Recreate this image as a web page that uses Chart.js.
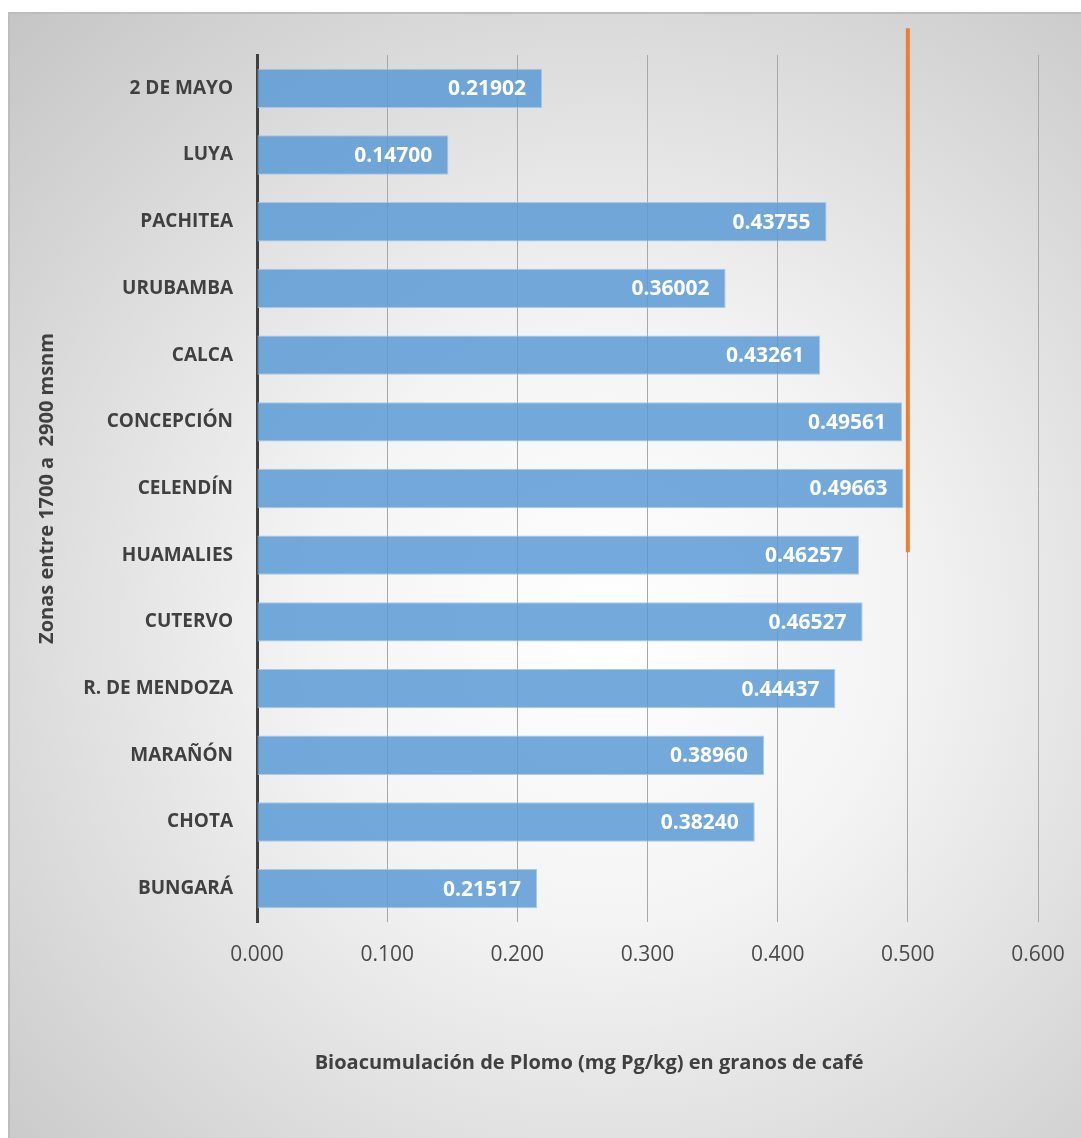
<!DOCTYPE html>
<html>
<head>
<meta charset="utf-8">
<script src="https://cdn.jsdelivr.net/npm/chart.js@4"></script>
<style>
  html, body { margin: 0; padding: 0; background: #ffffff; }
  #wrap { position: relative; width: 1081px; height: 1138px; }
</style>
</head>
<body>
<div id="wrap"><canvas id="leadChart" width="1081" height="1138"></canvas></div>
<script>
// datos del gráfico
const zonas = ['2 DE MAYO', 'LUYA', 'PACHITEA', 'URUBAMBA', 'CALCA', 'CONCEPCIÓN', 'CELENDÍN',
    'HUAMALIES', 'CUTERVO', 'R. DE MENDOZA', 'MARAÑÓN', 'CHOTA', 'BUNGARÁ'];
const plomo = [0.21902, 0.14700, 0.43755, 0.36002, 0.43261, 0.49561, 0.49663,
    0.46257, 0.46527, 0.44437, 0.38960, 0.38240, 0.21517];
const xTicks = [0, 0.1, 0.2, 0.3, 0.4, 0.5, 0.6];
const limite = 0.5;              // línea naranja (límite máximo)
const limiteHasta = 'HUAMALIES'; // la línea baja hasta esta zona
const tituloX = 'Bioacumulación de Plomo (mg Pg/kg) en granos de café';
const tituloY = 'Zonas entre 1700 a  2900 msnm';

const fontFam = "'Open Sans', 'Liberation Sans', sans-serif";

// fondo con degradado radial y marco
const fondoPlugin = {
    id: 'fondo',
    beforeDraw(chart) {
        const ctx = chart.ctx;
        const w = chart.width, h = chart.height;
        ctx.save();
        ctx.fillStyle = '#ffffff';
        ctx.fillRect(0, 0, w, h);
        const g = ctx.createRadialGradient(w * 0.56, h * 0.55, 0, w * 0.56, h * 0.55, w * 0.78);
        g.addColorStop(0, '#ffffff');
        g.addColorStop(0.35, '#f4f4f4');
        g.addColorStop(1, '#c6c6c6');
        ctx.fillStyle = g;
        ctx.fillRect(8, 12, w - 8, h - 12);
        ctx.strokeStyle = '#bdbdbd';
        ctx.lineWidth = 2;
        ctx.strokeRect(9, 13, w, h);
        ctx.restore();
    }
};

// etiquetas de valores, línea límite y títulos de ejes
const extrasPlugin = {
    id: 'extras',
    afterDatasetsDraw(chart) {
        const ctx = chart.ctx;
        const meta = chart.getDatasetMeta(0);
        ctx.save();
        ctx.font = "bold 21px " + fontFam;
        ctx.fillStyle = '#ffffff';
        ctx.textAlign = 'right';
        ctx.textBaseline = 'middle';
        meta.data.forEach((bar, i) => {
            ctx.fillText(plomo[i].toFixed(5), bar.x - 16, bar.y + 1);
        });

        // línea límite
        const xs = chart.scales.x, ys = chart.scales.y;
        const px = xs.getPixelForValue(limite);
        ctx.strokeStyle = '#ed7d31';
        ctx.lineWidth = 4;
        ctx.beginPath();
        ctx.moveTo(px, ys.getPixelForValue(-0.9));
        ctx.lineTo(px, ys.getPixelForValue(zonas.indexOf(limiteHasta)) - 3);
        ctx.stroke();

        // títulos
        ctx.fillStyle = '#404040';
        ctx.font = "bold 20px " + fontFam;
        ctx.textAlign = 'center';
        ctx.fillText(tituloX, chart.width * 0.545, 1063);
        const ca = chart.chartArea;
        ctx.translate(47, (ca.top + ca.bottom) / 2);
        ctx.rotate(-Math.PI / 2);
        ctx.fillText(tituloY, 0, 0);
        ctx.restore();
    }
};

const ctx = document.getElementById('leadChart').getContext('2d');
const leadChart = new Chart(ctx, {
    type: 'bar',
    data: {
        labels: zonas,
        datasets: [{
            label: 'Plomo',
            data: plomo,
            backgroundColor: 'rgba(91, 155, 213, 0.85)',
            borderColor: 'rgba(160, 197, 232, 0.9)',
            borderWidth: 1,
            borderSkipped: false,
            categoryPercentage: 0.59,
            barPercentage: 1.0
        }]
    },
    options: {
        indexAxis: 'y',
        responsive: false,
        animation: false,
        layout: { padding: { top: 55, right: 43, bottom: 174, left: 8 } },
        plugins: {
            legend: { display: false },
            tooltip: { enabled: false }
        },
        scales: {
            x: {
                min: 0,
                max: 0.6,
                afterBuildTicks(scale) {
                    scale.ticks = xTicks.map(v => ({ value: v }));
                },
                afterFit(scale) {
                    scale.height = 42;
                    scale.paddingLeft = 0;
                    scale.paddingRight = 0;
                },
                grid: { color: '#a8a8a8', lineWidth: 1, drawTicks: false },
                border: { display: false },
                ticks: {
                    padding: 20,
                    color: '#4a4a4a',
                    font: { family: fontFam, size: 21 },
                    callback: v => Number(v).toFixed(3)
                }
            },
            y: {
                afterFit(scale) { scale.width = 249; },
                grid: { display: false, drawTicks: false },
                border: { display: true, color: '#404040', width: 3 },
                ticks: {
                    padding: 24,
                    color: '#404040',
                    font: { family: fontFam, size: 19, weight: 'bold' }
                }
            }
        }
    },
    plugins: [fondoPlugin, extrasPlugin]
});
</script>
</body>
</html>
